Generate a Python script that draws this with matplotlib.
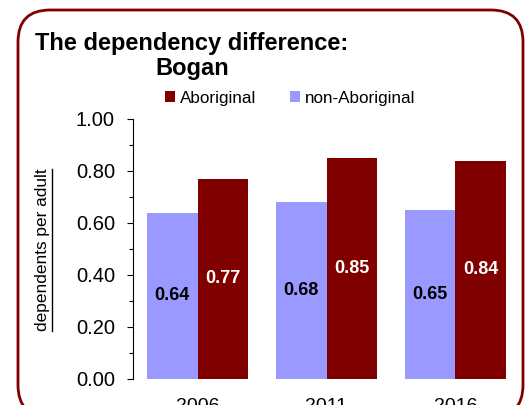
import matplotlib
matplotlib.use('Agg')
import matplotlib.pyplot as plt
import numpy as np
from matplotlib.patches import FancyBboxPatch
from matplotlib.lines import Line2D
from matplotlib.ticker import MultipleLocator

plt.rcParams['font.family'] = ['Liberation Sans', 'DejaVu Sans']

# data
years = ['2006', '2011', '2016']
non_aboriginal = [0.64, 0.68, 0.65]
aboriginal = [0.77, 0.85, 0.84]

dark_red = '#800000'
light_blue = '#9999FF'

W, H = 531, 405
fig = plt.figure(figsize=(W / 100, H / 100), dpi=100)

# rounded frame around the whole chart
frame = FancyBboxPatch((0.18, -0.12), 5.05, 4.07,
                       boxstyle="round,pad=0,rounding_size=0.32",
                       transform=fig.dpi_scale_trans, facecolor='none',
                       edgecolor=dark_red, linewidth=2, zorder=-1)
fig.patches.append(frame)

ax = fig.add_axes([133 / W, 26 / H, 387 / W, 260 / H])
ax.set_facecolor('none')

x = np.arange(len(years))
bw = 0.39
b1 = ax.bar(x - bw / 2, non_aboriginal, bw, color=light_blue, label='non-Aboriginal')
b2 = ax.bar(x + bw / 2, aboriginal, bw, color=dark_red, label='Aboriginal')

for rect, v in zip(b1, non_aboriginal):
    ax.text(rect.get_x() + rect.get_width() / 2, v / 2, f'{v:.2f}',
            ha='center', va='center', fontsize=13, fontweight='bold', color='black')
for rect, v in zip(b2, aboriginal):
    ax.text(rect.get_x() + rect.get_width() / 2, v / 2, f'{v:.2f}',
            ha='center', va='center', fontsize=13, fontweight='bold', color='white')

ax.set_xlim(-0.5, 2.5)
ax.set_ylim(0, 1.0)
ax.yaxis.set_major_locator(MultipleLocator(0.2))
ax.yaxis.set_minor_locator(MultipleLocator(0.1))
ax.yaxis.set_major_formatter(plt.FuncFormatter(lambda v, p: f'{v:.2f}'))
ax.tick_params(axis='y', which='major', length=4, width=0.8, labelsize=14.5, pad=9)
ax.tick_params(axis='y', which='minor', length=3, width=0.8)
ax.set_xticks(x)
ax.set_xticklabels(years)
ax.tick_params(axis='x', length=0, labelsize=14, pad=14)

for s in ['top', 'right', 'bottom']:
    ax.spines[s].set_visible(False)

# titles
fig.text(35 / W, 1 - 50 / H, 'The dependency difference:', fontsize=17,
         fontweight='bold', va='baseline', ha='left')
fig.text(155 / W, 1 - 75 / H, 'Bogan', fontsize=17,
         fontweight='bold', va='baseline', ha='left')

# legend
fig.legend(handles=[b2, b1], labels=['Aboriginal', 'non-Aboriginal'],
           loc='center', bbox_to_anchor=(290 / W, 1 - 98 / H), ncol=2,
           frameon=False, fontsize=12.3, handlelength=0.6, handleheight=0.6,
           handletextpad=0.25, columnspacing=2.0, borderpad=0)

# y label, underlined
ylab = fig.text(43 / W, 1 - 250 / H, 'dependents per adult', rotation=90,
                fontsize=12.4, ha='center', va='center')
fig.canvas.draw()
bb = ylab.get_window_extent()
ux = (bb.x1 + 1) / W
fig.lines.append(Line2D([ux, ux], [bb.y0 / H, bb.y1 / H],
                        transform=fig.transFigure, color='black', linewidth=1))

plt.savefig('out.png', dpi=100)
plt.close()
